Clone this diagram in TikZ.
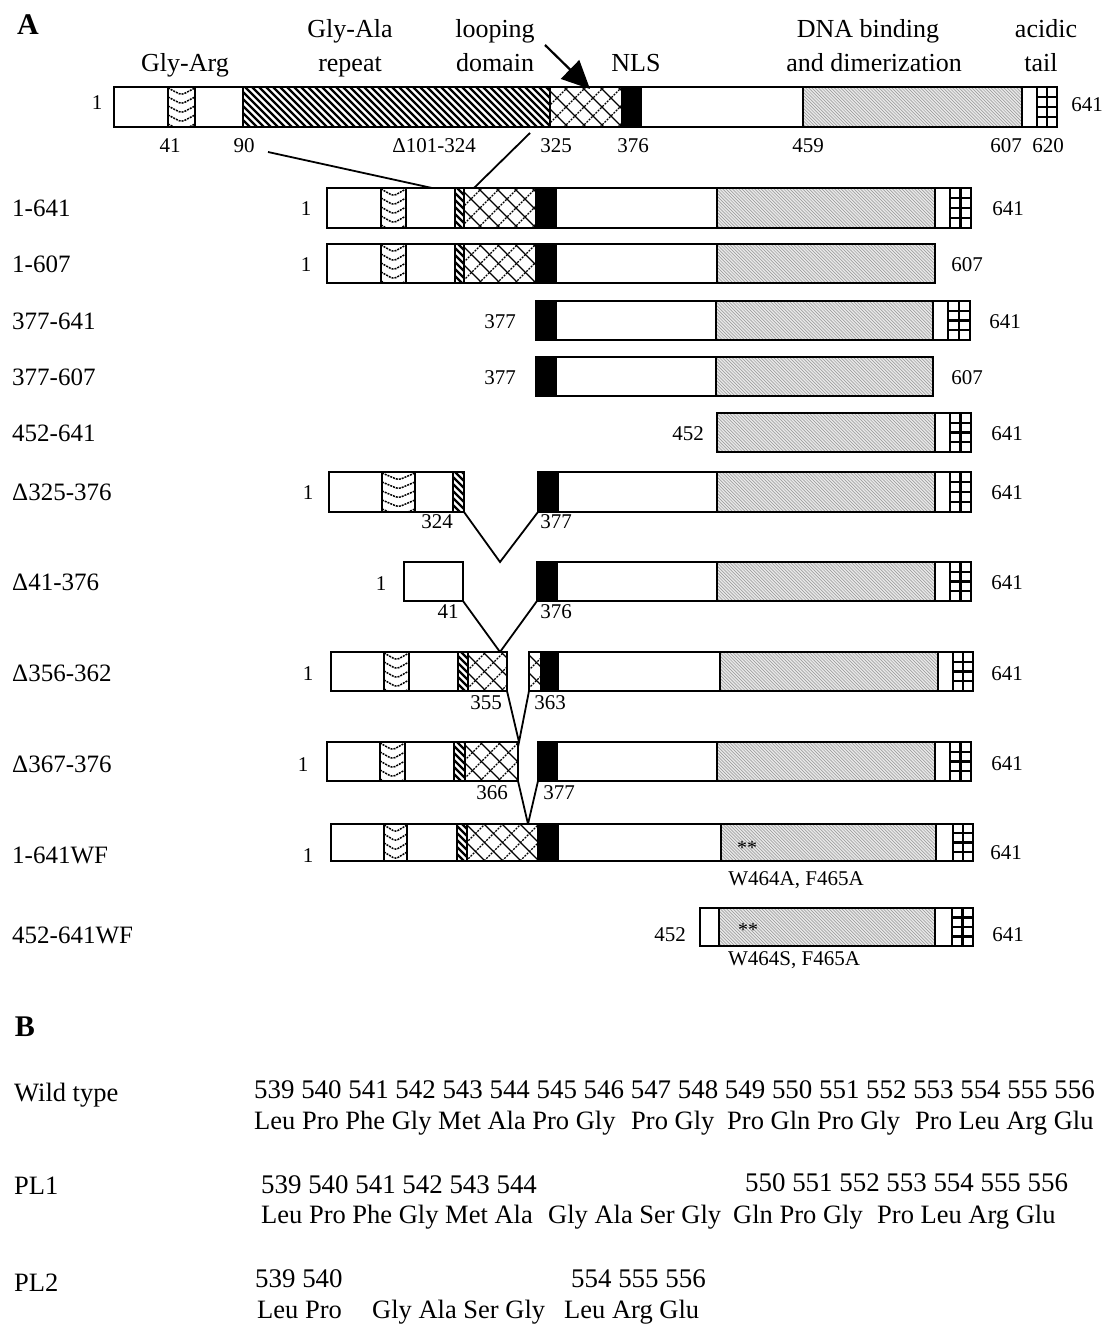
\documentclass[tikz,border=0pt]{standalone}
\usepackage{fontspec}
\setmainfont{Liberation Serif}
\usetikzlibrary{arrows.meta}

% "\" hatch lines clipped to a rectangle: x1 x2 y1 y2 spacing style
\newcommand{\hatchNW}[6]{%
  \begin{scope}
    \clip (#1,#3) rectangle (#2,#4);
    \pgfmathsetmacro{\hatchH}{#4-#3}
    \pgfmathsetmacro{\hatchA}{#1-\hatchH}
    \pgfmathsetmacro{\hatchB}{#1-\hatchH+#5}
    \foreach \hx in {\hatchA,\hatchB,...,#2} \draw[#6] (\hx,#3) -- ++(\hatchH,\hatchH);
  \end{scope}}
% "/" hatch lines
\newcommand{\hatchNE}[6]{%
  \begin{scope}
    \clip (#1,#3) rectangle (#2,#4);
    \pgfmathsetmacro{\hatchH}{#4-#3}
    \pgfmathsetmacro{\hatchA}{#1-\hatchH}
    \pgfmathsetmacro{\hatchB}{#1-\hatchH+#5}
    \foreach \hx in {\hatchA,\hatchB,...,#2} \draw[#6] (\hx,#4) -- ++(\hatchH,-\hatchH);
  \end{scope}}

\newcommand{\plainseg}[4]{\filldraw[seg,fill=white] (#1,#3) rectangle (#2,#4);}
\newcommand{\nlsseg}[4]{\filldraw[seg,fill=black] (#1,#3) rectangle (#2,#4);}
\newcommand{\glyala}[4]{\fill[white] (#1,#3) rectangle (#2,#4);
  \hatchNW{#1}{#2}{#3}{#4}{7}{line width=2.3pt}
  \draw[seg] (#1,#3) rectangle (#2,#4);}
\newcommand{\loopseg}[4]{\fill[white] (#1,#3) rectangle (#2,#4);
  \hatchNW{#1}{#2}{#3}{#4}{18}{line width=1.2pt}
  \hatchNE{#1}{#2}{#3}{#4}{18}{line width=1.3pt,dash pattern=on 2pt off 1.2pt}
  \draw[seg] (#1,#3) rectangle (#2,#4);}
\newcommand{\dnaseg}[4]{\fill[black!9] (#1,#3) rectangle (#2,#4);
  \hatchNW{#1}{#2}{#3}{#4}{3.2}{black!42,line width=0.5pt}
  \draw[seg] (#1,#3) rectangle (#2,#4);}
\newcommand{\wavyseg}[4]{\fill[white] (#1,#3) rectangle (#2,#4);
  \begin{scope}
    \clip (#1,#3) rectangle (#2,#4);
    \pgfmathsetmacro{\wavM}{(#1+#2)/2}
    \foreach \k in {0,...,4} {
      \pgfmathsetmacro{\wavY}{#3+1+9*\k}
      \draw[line width=1.5pt,dash pattern=on 2pt off 1pt,rounded corners=3pt]
        (#1,\wavY) -- (\wavM,\wavY+7) -- (#2,\wavY);}
  \end{scope}
  \draw[seg] (#1,#3) rectangle (#2,#4);}
\newcommand{\acidseg}[4]{\filldraw[seg,fill=white] (#1,#3) rectangle (#2,#4);
  \pgfmathsetmacro{\acM}{(#1+#2)/2}
  \pgfmathsetmacro{\acQ}{(#4-#3)/4}
  \draw[line width=2.2pt] (\acM,#3) -- (\acM,#4);
  \foreach \k in {1,2,3} \draw[line width=2.2pt] (#1,#3+\k*\acQ) -- (#2,#3+\k*\acQ);}

\begin{document}
\begin{tikzpicture}[x=1pt,y=-1pt,
  seg/.style={line width=1.6pt},
  outer/.style={line width=2.4pt},
  conn/.style={line width=1.8pt},
  txt/.style={inner sep=0pt, text depth=0pt},
  lab/.style={txt, font=\fontsize{25}{30}\selectfont, text height=16.5pt, anchor=west},
  num/.style={txt, font=\fontsize{21}{25}\selectfont, text height=14pt},
  hdr/.style={txt, font=\fontsize{26}{30}\selectfont, text height=17pt},
  big/.style={txt, font=\fontsize{30}{36}\selectfont\bfseries, text height=20pt},
  seq/.style={txt, font=\fontsize{26.5}{30}\selectfont, text height=17.5pt, anchor=west},
  seqn/.style={txt, font=\fontsize{26.9}{30}\selectfont, text height=17.8pt, anchor=west},
  star/.style={txt, font=\fontsize{20}{24}\selectfont, text height=9pt},
]
\useasboundingbox (0,0) rectangle (1112,1324);

% ---------------- Part A ----------------
\node[big] (labA) at (28,25) {A};

\node[hdr] (hGlyArg) at (185,63) {Gly-Arg};
\node[hdr] (hGlyAla1) at (350,29) {Gly-Ala};
\node[hdr] (hGlyAla2) at (350,63) {repeat};
\node[hdr] (hLoop1) at (495,29) {looping};
\node[hdr] (hLoop2) at (495,63) {domain};
\node[hdr] (hNLS) at (636,63) {NLS};
\node[hdr] (hDNA1) at (868,29) {DNA binding};
\node[hdr] (hDNA2) at (874,63) {and dimerization};
\node[hdr] (hAcid1) at (1046,29) {acidic};
\node[hdr] (hAcid2) at (1041,63) {tail};

% full-length top bar
\plainseg{114}{168}{87}{127}
\wavyseg{168}{195}{87}{127}
\plainseg{195}{243}{87}{127}
\glyala{243}{550}{87}{127}
\loopseg{550}{622}{87}{127}
\nlsseg{622}{641}{87}{127}
\plainseg{641}{803}{87}{127}
\dnaseg{803}{1022}{87}{127}
\plainseg{1022}{1037}{87}{127}
\acidseg{1037}{1057}{87}{127}
\draw[outer] (114,87) rectangle (1057,127);

\coordinate (arrS) at (545,45);
\coordinate (arrE) at (590,89);
\draw[line width=2.2pt,-{Triangle[length=28pt,width=26pt]}] (arrS) -- (arrE);

\node[num] (t1) at (97,103) {1};
\node[num] (t641) at (1087,105) {641};
\node[num] (t41) at (170,146) {41};
\node[num] (t90) at (244,146) {90};
\node[num] (tdel) at (434,146) {Δ101-324};
\node[num] (t325) at (556,146) {325};
\node[num] (t376) at (633,146) {376};
\node[num] (t459) at (808,146) {459};
\node[num] (t607) at (1006,146) {607};
\node[num] (t620) at (1048,146) {620};

\coordinate (zA1) at (268,152);
\coordinate (zA2) at (432,188);
\coordinate (zB1) at (530,133);
\coordinate (zB2) at (474,188);
\draw[conn] (zA1) -- (zA2);
\draw[conn] (zB1) -- (zB2);

% row labels
\node[lab] (r1) at (12,208) {1-641};
\node[lab] (r2) at (12,264) {1-607};
\node[lab] (r3) at (12,321) {377-641};
\node[lab] (r4) at (12,377) {377-607};
\node[lab] (r5) at (12,433) {452-641};
\node[lab] (r6) at (12,492) {Δ325-376};
\node[lab] (r7) at (12,582) {Δ41-376};
\node[lab] (r8) at (12,673) {Δ356-362};
\node[lab] (r9) at (12,764) {Δ367-376};
\node[lab] (r10) at (12,855) {1-641WF};
\node[lab] (r11) at (12,935) {452-641WF};

% row 1: 1-641
\plainseg{327}{381}{188}{228}
\wavyseg{381}{406}{188}{228}
\plainseg{406}{455}{188}{228}
\glyala{455}{464}{188}{228}
\loopseg{464}{536}{188}{228}
\nlsseg{536}{556}{188}{228}
\plainseg{556}{717}{188}{228}
\dnaseg{717}{935}{188}{228}
\plainseg{935}{950}{188}{228}
\acidseg{950}{971}{188}{228}
\draw[outer] (327,188) rectangle (971,228);
\node[num] (n1a) at (306,209) {1};
\node[num] (n1b) at (1008,209) {641};

% row 2: 1-607
\plainseg{327}{381}{244}{283}
\wavyseg{381}{406}{244}{283}
\plainseg{406}{455}{244}{283}
\glyala{455}{464}{244}{283}
\loopseg{464}{536}{244}{283}
\nlsseg{536}{556}{244}{283}
\plainseg{556}{717}{244}{283}
\dnaseg{717}{935}{244}{283}
\draw[outer] (327,244) rectangle (935,283);
\node[num] (n2a) at (306,264) {1};
\node[num] (n2b) at (967,264) {607};

% row 3: 377-641
\nlsseg{536}{556}{301}{340}
\plainseg{556}{716}{301}{340}
\dnaseg{716}{933}{301}{340}
\plainseg{933}{948}{301}{340}
\acidseg{948}{970}{301}{340}
\draw[outer] (536,301) rectangle (970,340);
\node[num] (n3a) at (500,321) {377};
\node[num] (n3b) at (1005,321) {641};

% row 4: 377-607
\nlsseg{536}{556}{357}{396}
\plainseg{556}{716}{357}{396}
\dnaseg{716}{933}{357}{396}
\draw[outer] (536,357) rectangle (933,396);
\node[num] (n4a) at (500,377) {377};
\node[num] (n4b) at (967,377) {607};

% row 5: 452-641
\dnaseg{717}{935}{413}{452}
\plainseg{935}{950}{413}{452}
\acidseg{950}{971}{413}{452}
\draw[outer] (717,413) rectangle (971,452);
\node[num] (n5a) at (688,433) {452};
\node[num] (n5b) at (1007,433) {641};

% row 6: delta 325-376
\plainseg{329}{382}{472}{512}
\wavyseg{382}{415}{472}{512}
\plainseg{415}{453}{472}{512}
\glyala{453}{464}{472}{512}
\draw[outer] (329,472) rectangle (464,512);
\nlsseg{538}{558}{472}{512}
\plainseg{558}{717}{472}{512}
\dnaseg{717}{935}{472}{512}
\plainseg{935}{950}{472}{512}
\acidseg{950}{971}{472}{512}
\draw[outer] (538,472) rectangle (971,512);
\node[num] (n6a) at (308,492) {1};
\node[num] (n6b) at (1007,492) {641};
\node[num] (n6c) at (437,521) {324};
\node[num] (n6d) at (556,521) {377};
\coordinate (v6a) at (464,512);
\coordinate (v6b) at (500,562);
\coordinate (v6c) at (538,512);
\draw[conn] (v6a) -- (v6b) -- (v6c);

% row 7: delta 41-376
\plainseg{404}{463}{562}{601}
\draw[outer] (404,562) rectangle (463,601);
\nlsseg{537}{557}{562}{601}
\plainseg{557}{717}{562}{601}
\dnaseg{717}{935}{562}{601}
\plainseg{935}{950}{562}{601}
\acidseg{950}{971}{562}{601}
\draw[outer] (537,562) rectangle (971,601);
\node[num] (n7a) at (381,583) {1};
\node[num] (n7b) at (1007,582) {641};
\node[num] (n7c) at (448,611) {41};
\node[num] (n7d) at (556,611) {376};
\coordinate (v7a) at (463,601);
\coordinate (v7b) at (500,652);
\coordinate (v7c) at (537,601);
\draw[conn] (v7a) -- (v7b) -- (v7c);

% row 8: delta 356-362
\plainseg{331}{384}{652}{691}
\wavyseg{384}{409}{652}{691}
\plainseg{409}{458}{652}{691}
\glyala{458}{468}{652}{691}
\loopseg{468}{507}{652}{691}
\draw[outer] (331,652) rectangle (507,691);
\loopseg{529}{541}{652}{691}
\nlsseg{541}{558}{652}{691}
\plainseg{558}{720}{652}{691}
\dnaseg{720}{938}{652}{691}
\plainseg{938}{953}{652}{691}
\acidseg{953}{973}{652}{691}
\draw[outer] (529,652) rectangle (973,691);
\node[num] (n8a) at (308,673) {1};
\node[num] (n8b) at (1007,673) {641};
\node[num] (n8c) at (486,702) {355};
\node[num] (n8d) at (550,702) {363};
\coordinate (v8a) at (507,691);
\coordinate (v8b) at (519,742);
\coordinate (v8c) at (529,691);
\draw[conn] (v8a) -- (v8b) -- (v8c);

% row 9: delta 367-376
\plainseg{327}{380}{742}{781}
\wavyseg{380}{405}{742}{781}
\plainseg{405}{454}{742}{781}
\glyala{454}{465}{742}{781}
\loopseg{465}{518}{742}{781}
\draw[outer] (327,742) rectangle (518,781);
\nlsseg{538}{557}{742}{781}
\plainseg{557}{717}{742}{781}
\dnaseg{717}{935}{742}{781}
\plainseg{935}{950}{742}{781}
\acidseg{950}{971}{742}{781}
\draw[outer] (538,742) rectangle (971,781);
\node[num] (n9a) at (303,764) {1};
\node[num] (n9b) at (1007,763) {641};
\node[num] (n9c) at (492,792) {366};
\node[num] (n9d) at (559,792) {377};
\coordinate (v9a) at (518,781);
\coordinate (v9b) at (528,824);
\coordinate (v9c) at (538,781);
\draw[conn] (v9a) -- (v9b) -- (v9c);

% row 10: 1-641WF
\plainseg{331}{384}{824}{861}
\wavyseg{384}{407}{824}{861}
\plainseg{407}{457}{824}{861}
\glyala{457}{467}{824}{861}
\loopseg{467}{538}{824}{861}
\nlsseg{538}{558}{824}{861}
\plainseg{558}{721}{824}{861}
\dnaseg{721}{936}{824}{861}
\plainseg{936}{953}{824}{861}
\acidseg{953}{973}{824}{861}
\draw[outer] (331,824) rectangle (973,861);
\node[star] (s10) at (747,850) {**};
\node[num] (n10a) at (308,855) {1};
\node[num] (n10b) at (1006,852) {641};
\node[num] (n10c) at (796,878) {W464A, F465A};

% row 11: 452-641WF
\plainseg{700}{719}{908}{946}
\dnaseg{719}{935}{908}{946}
\plainseg{935}{952}{908}{946}
\acidseg{952}{973}{908}{946}
\draw[outer] (700,908) rectangle (973,946);
\node[star] (s11) at (748,932) {**};
\node[num] (n11a) at (670,934) {452};
\node[num] (n11b) at (1008,934) {641};
\node[num] (n11c) at (794,958) {W464S, F465A};

% ---------------- Part B ----------------
\node[big] (labB) at (25,1026) {B};

\node[seq] (wt) at (14,1093) {Wild type};
\node[seqn] (wtn) at (254,1090) {539 540 541 542 543 544 545 546 547 548 549 550 551 552 553 554 555 556};
\node[seq] (wta1) at (254,1121) {Leu Pro Phe Gly Met Ala Pro Gly};
\node[seq] (wta2) at (631,1121) {Pro Gly};
\node[seq] (wta3) at (727,1121) {Pro Gln Pro Gly};
\node[seq] (wta4) at (915,1121) {Pro Leu Arg Glu};

\node[seq] (pl1) at (14,1186) {PL1};
\node[seqn] (pl1n1) at (261,1185) {539 540 541 542 543 544};
\node[seqn] (pl1n2) at (745,1183) {550 551 552 553 554 555 556};
\node[seq] (pl1a1) at (261,1215) {Leu Pro Phe Gly Met Ala};
\node[seq] (pl1a2) at (548,1215) {Gly Ala Ser Gly};
\node[seq] (pl1a3) at (733,1215) {Gln Pro Gly};
\node[seq] (pl1a4) at (877,1215) {Pro Leu Arg Glu};

\node[seq] (pl2) at (14,1283) {PL2};
\node[seqn] (pl2n1) at (255,1279) {539 540};
\node[seqn] (pl2n2) at (571,1279) {554 555 556};
\node[seq] (pl2a1) at (257,1310) {Leu Pro};
\node[seq] (pl2a2) at (372,1310) {Gly Ala Ser Gly};
\node[seq] (pl2a3) at (564,1310) {Leu Arg Glu};
\end{tikzpicture}
\end{document}
